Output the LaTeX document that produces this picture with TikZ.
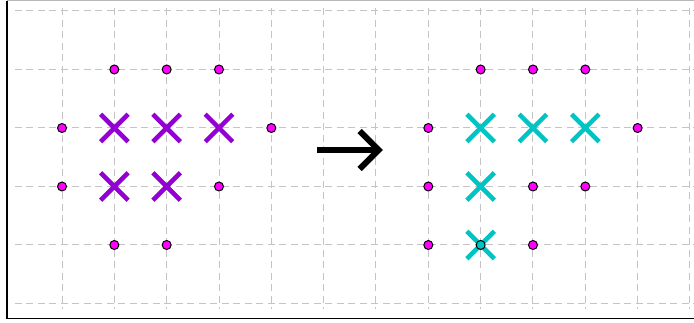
\documentclass[tikz,border=0pt]{standalone}
\usepackage{xcolor}
\usepackage{tikz}
\usetikzlibrary{arrows.meta,shapes.misc}

\definecolor{gridgray}{HTML}{C4C4C4}
\definecolor{framegray}{HTML}{B8B8B8}
\definecolor{dotmag}{HTML}{FF00FF}
\definecolor{oldviolet}{HTML}{9400D3}
\definecolor{newcyan}{HTML}{00C4C4}

\tikzset{
  gridline/.style={gridgray, line width=1pt, dash pattern=on 7pt off 4.5pt},
  dot/.style={circle, draw=black, fill=dotmag, line width=1pt, inner sep=0pt, minimum size=9pt},
  oldx/.style={cross out, draw=oldviolet, line width=4.5pt, inner sep=0pt, minimum size=23pt},
  newx/.style={cross out, draw=newcyan, line width=4.5pt, inner sep=0pt, minimum size=23pt},
}

\begin{document}
\begin{tikzpicture}[x=52.33pt,y=-58.5pt]
  \useasboundingbox (-1.185,-0.188) rectangle (12.077,5.333);

  % frame
  \draw[framegray, line width=1pt] (-1.051,-0.179) -- (12.077,-0.179);
  \draw[black, line width=1.5pt] (-1.051,-0.179) -- (-1.051,5.256) -- (12.077,5.256);

  % grid
  \foreach \j in {0,...,5}
    \draw[gridline] (-0.9,\j) -- (12.077,\j);
  \foreach \i in {0,...,12}
    \draw[gridline] (\i,-0.05) -- (\i,5.1);

  % before
  \node[oldx] (x1) at (1,2) {};
  \node[oldx] (x2) at (2,2) {};
  \node[oldx] (x3) at (3,2) {};
  \node[oldx] (x4) at (1,3) {};
  \node[oldx] (x5) at (2,3) {};

  \node[dot] (a1) at (1,1) {};
  \node[dot] (a2) at (2,1) {};
  \node[dot] (a3) at (3,1) {};
  \node[dot] (a4) at (0,2) {};
  \node[dot] (a5) at (4,2) {};
  \node[dot] (a6) at (0,3) {};
  \node[dot] (a7) at (3,3) {};
  \node[dot] (a8) at (1,4) {};
  \node[dot] (a9) at (2,4) {};

  % after
  \node[newx] (y1) at (8,2) {};
  \node[newx] (y2) at (9,2) {};
  \node[newx] (y3) at (10,2) {};
  \node[newx] (y4) at (8,3) {};
  \node[newx] (y5) at (8,4) {};

  \node[dot] (b1) at (8,1) {};
  \node[dot] (b2) at (9,1) {};
  \node[dot] (b3) at (10,1) {};
  \node[dot] (b4) at (7,2) {};
  \node[dot] (b5) at (11,2) {};
  \node[dot] (b6) at (7,3) {};
  \node[dot] (b7) at (9,3) {};
  \node[dot] (b8) at (10,3) {};
  \node[dot] (b9) at (7,4) {};
  \node[dot] (b10) at (9,4) {};
  \node[dot, fill=newcyan] (b11) at (y5) {};

  % step
  \coordinate (from) at (4.873,2.376);
  \coordinate (to) at (6.13,2.376);
  \draw[line width=6pt, -{Straight Barb[length=19pt,width=38pt]}] (from) -- (to);
\end{tikzpicture}
\end{document}
